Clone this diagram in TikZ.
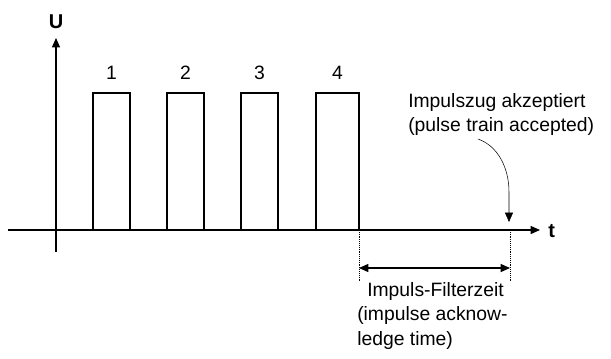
\documentclass[tikz,border=0pt]{standalone}
\usepackage{fontspec}
\setmainfont{Liberation Sans}
\usetikzlibrary{arrows.meta}

\begin{document}
\begin{tikzpicture}[x=0.75pt,y=-0.75pt,
	signal/.style={line width=2.2pt,line join=miter},
	axis/.style={line width=1pt},
	tip/.style={-{Triangle[length=7pt,width=6pt]}},
	txt/.style={font=\fontsize{14.5}{18.5}\selectfont,inner sep=0pt}]

	\useasboundingbox (0,0) rectangle (611,358);

	% axes
	\coordinate (o) at (56,230);
	\coordinate (xl) at (8,230);
	\coordinate (xr) at (540,230);
	\coordinate (yb) at (56,252);
	\coordinate (yt) at (56,38);
	\draw[axis,tip] (xl) -- (xr);
	\draw[axis,tip] (yb) -- (yt);
	\node[txt,font=\fontsize{15}{16}\selectfont\bfseries] (U) at (56,22) {U};
	\node[txt,font=\fontsize{15}{16}\selectfont\bfseries,anchor=west] (t) at (548,231) {t};

	% pulse train
	\draw[signal] (o) foreach \a/\b in {93/130,167/204,241/278,316/359} {
		-- (\a,230) -- (\a,93) -- (\b,93) -- (\b,230) };
	\foreach \n/\a/\b in {1/93/130,2/167/204,3/241/278,4/316/359}
		\node[txt] (p\n) at ({(\a+\b)/2},73) {\n};

	% filter time
	\coordinate (fa) at (359,230);
	\coordinate (fb) at (510,230);
	\draw[line width=2pt,dotted] (fa) -- (fb);
	\draw[densely dotted] (fa) -- ++(0,52) coordinate (fa2);
	\draw[densely dotted] (fb) -- ++(0,52) coordinate (fb2);
	\draw[axis,{Triangle[length=7pt,width=6pt]}-{Triangle[length=7pt,width=6pt]}] (359,268) coordinate (da) -- (510,268) coordinate (db);
	\node[txt,align=left,anchor=north west] (filt) at (357,282)
		{\hspace*{7.5pt}Impuls-Filterzeit\\(impulse acknow-\\ledge time)};

	% accepted
	\node[txt,align=left,anchor=north west] (acc) at (408,93)
		{Impulszug akzeptiert\\(pulse train accepted)};
	\draw[thin,tip] (478,139) .. controls (498,146) and (509,168) .. (509,192) -- (509,222) coordinate (ac);

\end{tikzpicture}
\end{document}
